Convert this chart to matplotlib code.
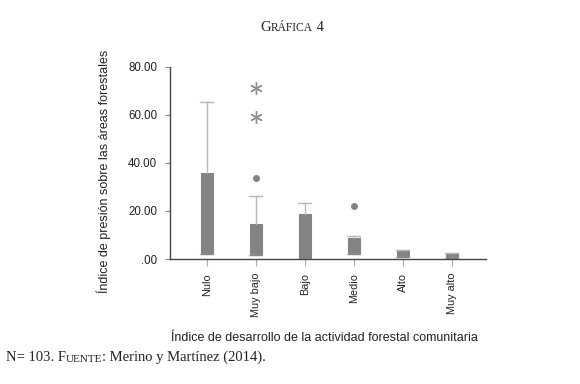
import matplotlib
matplotlib.use("Agg")
import matplotlib.pyplot as plt

categories = ["Nulo", "Muy bajo", "Bajo", "Medio", "Alto", "Muy alto"]
q1 = [2.1, 1.7, 0.0, 2.1, 1.0, 0.4]
q3 = [35.7, 14.5, 18.6, 8.6, 3.6, 2.6]
whis_hi = [65.3, 26.4, 23.2, 9.5, 3.6, 2.6]
outliers = [[], [33.6], [], [22.2], [], []]
extremes = [[], [71.1, 59.3], [], [], [], []]
yticks = [0, 20, 40, 60, 80]
ytick_labels = [".00", "20.00", "40.00", "60.00", "80.00"]

plt.rcParams['font.family'] = ['Liberation Sans', 'DejaVu Sans']

fig = plt.figure(figsize=(5.8, 3.84), dpi=100)
ax = fig.add_axes([170/580, 1 - 259/384, (486-170)/580, (259-67)/384])

box_c = "#838383"
wh_c = "#b8b8b8"
stats = []
for i, c in enumerate(categories):
    stats.append(dict(label=c, q1=q1[i], q3=q3[i], med=q1[i], whislo=q1[i],
                      whishi=whis_hi[i], fliers=outliers[i]))
pos = list(range(len(categories)))
ax.bxp(stats, positions=pos, widths=0.25, patch_artist=True, showcaps=True,
       capwidths=[0.27]*len(categories),
       boxprops=dict(facecolor=box_c, edgecolor=box_c, linewidth=0.8),
       medianprops=dict(color=box_c, linewidth=0.8),
       whiskerprops=dict(color=wh_c, linewidth=1.0),
       capprops=dict(color=wh_c, linewidth=1.0),
       flierprops=dict(marker='o', markersize=4, markerfacecolor=box_c,
                       markeredgecolor=box_c))
for i, ex in enumerate(extremes):
    if ex:
        ax.plot([i]*len(ex), ex, linestyle='none', marker=(6, 2, 0),
                markersize=9, color="#909090", markeredgewidth=1.0)

ax.set_xlim(-0.75, 5.7)
ax.set_ylim(0, 80)
ax.set_yticks(yticks)
ax.set_yticklabels(ytick_labels, fontsize=8.3, color="#222222")
ax.set_xticks(pos)
ax.set_xticklabels(categories, rotation=90, fontsize=7.8, color="#222222")
for s in ["top", "right"]:
    ax.spines[s].set_visible(False)
for s in ["left", "bottom"]:
    ax.spines[s].set_color("#444444")
    ax.spines[s].set_linewidth(1.0)
ax.tick_params(axis='y', length=3.6, color="#888888", width=0.8, pad=5.5)
ax.tick_params(axis='x', length=5, color="#aaaaaa", width=0.8, pad=5)

fig.text(104/580, 1 - 171/384, "Índice de presión sobre las áreas forestales",
         rotation=90, ha='center', va='center', fontsize=9, color="#222222")
fig.text(324/580, 1 - 338/384, "Índice de desarrollo de la actividad forestal comunitaria",
         ha='center', va='center', fontsize=9, color="#222222")

serif = ['Liberation Serif', 'DejaVu Serif']
# Title in small caps
t1 = fig.text(260/580, 1 - 31/384, "G", fontsize=10.5, family=serif, va='baseline', color="#222222")
t2 = ax.annotate("RÁFICA", xy=(1, 0), xycoords=t1, va='bottom', ha='left',
                 fontsize=8.3, family=serif, color="#222222", annotation_clip=False)
t3 = ax.annotate(" 4", xy=(1, 0), xycoords=t2, va='bottom', ha='left',
                 fontsize=10.5, family=serif, color="#222222", annotation_clip=False)

f1 = fig.text(6/580, 1 - 361/384, "N= 103. F", fontsize=10.5, family=serif, va='baseline', color="#222222")
f2 = ax.annotate("UENTE", xy=(1, 0), xycoords=f1, va='bottom', ha='left',
                 fontsize=8, family=serif, color="#222222", annotation_clip=False)
f3 = ax.annotate(": Merino y Martínez (2014).", xy=(1, 0), xycoords=f2, va='bottom', ha='left',
                 fontsize=10.5, family=serif, color="#222222", annotation_clip=False)

fig.savefig("out.png", dpi=100)
